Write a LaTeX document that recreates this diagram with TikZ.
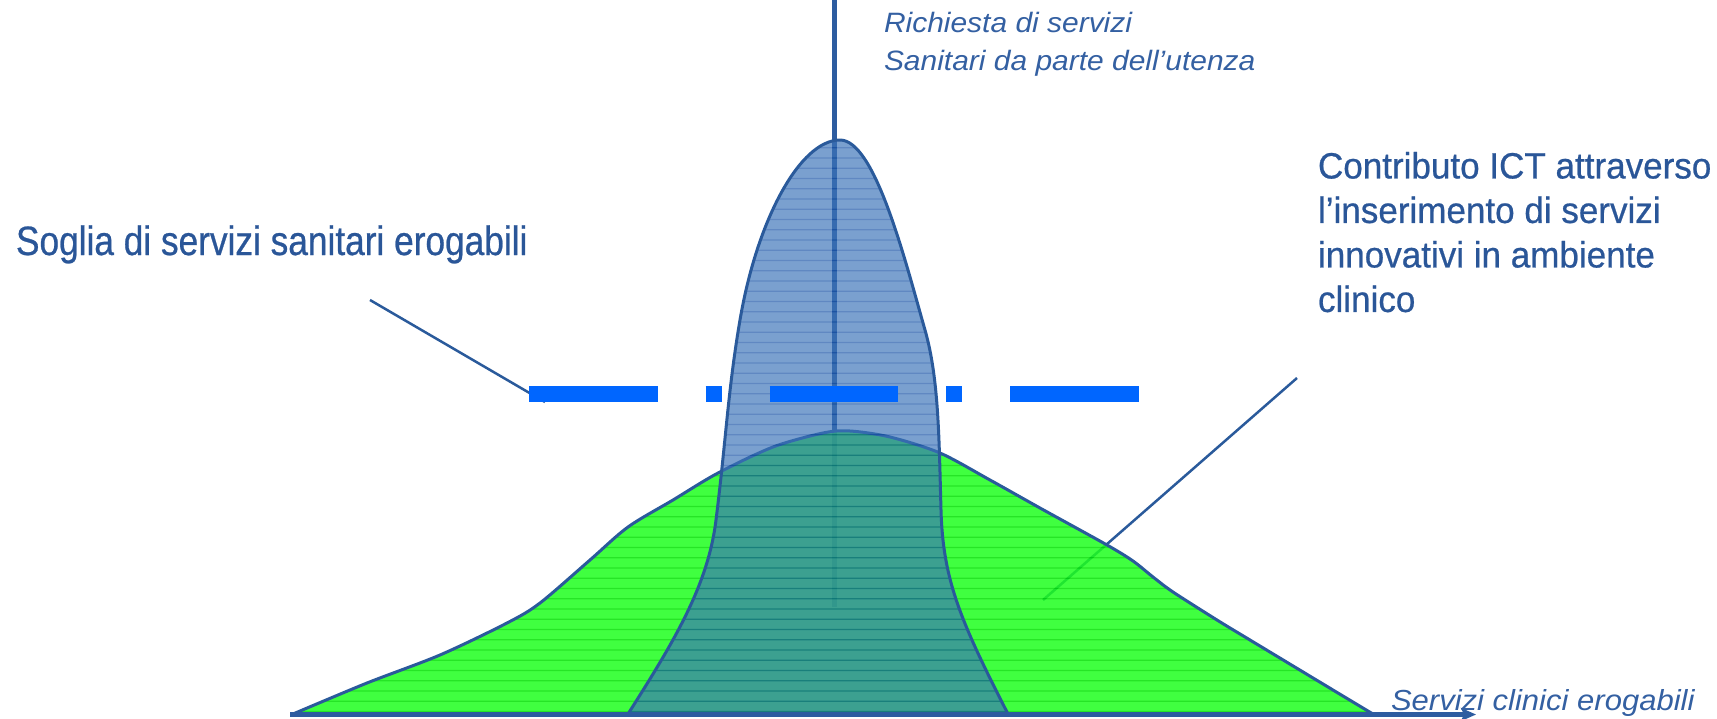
\documentclass[tikz,border=0pt]{standalone}
\usepackage{fontspec}
\setmainfont{Liberation Sans}
\newfontfamily\sogliafont[FakeStretch=0.86,FakeBold=0.6]{Liberation Sans}
\newfontfamily\ictfont[FakeStretch=0.96,FakeBold=0.6]{Liberation Sans}
\newfontfamily\axisfont[FakeStretch=1.07]{Liberation Sans}
\usetikzlibrary{arrows.meta}
\definecolor{txtblue}{RGB}{42,86,152}
\definecolor{itblue}{RGB}{52,96,162}
\definecolor{lineblue}{RGB}{42,90,155}
\definecolor{axisblue}{RGB}{45,92,160}
\definecolor{bellfill}{RGB}{59,115,184}
\definecolor{bellhatch}{RGB}{20,80,165}
\definecolor{greenfill}{RGB}{30,255,30}
\definecolor{greenhatch}{RGB}{0,225,0}
\definecolor{dashblue}{RGB}{0,102,255}
\newcommand\bellpath{(628,714) .. controls (675,640) and (708,585) .. (716,520) .. controls (726,440) and (728,390) .. (740,320) .. controls (757,220) and (800,140) .. (840,140) .. controls (875,140) and (905,260) .. (925,330) .. controls (939,379) and (939,440) .. (941,510) .. controls (943,580) and (960,620) .. (1008,714) -- cycle}
\newcommand\greenpath{plot[smooth, tension=0.5] coordinates {(293,714) (367,683) (440,655) (507,623) (540,603) (590,560) (628,527) (673,500) (718,473) (773,447) (823,433) (850,431) (890,437) (940,453) (990,480) (1040,508) (1107,545) (1133,561) (1153,577) (1173,592) (1217,620) (1250,640) (1333,690) (1373,714)} -- cycle}
\tikzset{
  leader/.style={draw=lineblue, line width=2.5},
  outline/.style={draw=lineblue, line width=3, line join=round},
  label/.style={inner sep=0, outer sep=0},
}
\begin{document}
\begin{tikzpicture}[x=1pt, y=-1pt]
\useasboundingbox (0,0) rectangle (1717,718);
% vertical axis (under shapes)
\coordinate (vtop) at (834,0);
\coordinate (vbot) at (834,607);
\draw[axisblue, line width=5] (vtop) -- (vbot);
% leader lines
\coordinate (sogliaFrom) at (370,300);
\coordinate (sogliaTo) at (545,402);
\coordinate (ictFrom) at (1297,378);
\coordinate (ictTo) at (1043,600);
\draw[leader] (sogliaFrom) -- (sogliaTo);
\draw[leader] (ictFrom) -- (ictTo);
% green shape
\begin{scope}[transparency group, opacity=0.85]
  \fill[greenfill] \greenpath;
  \begin{scope}
    \clip \greenpath;
    \foreach \k in {0,...,56} \draw[greenhatch, line width=1.2] (280,137.55+10.25*\k) -- (1390,137.55+10.25*\k);
  \end{scope}
\end{scope}
\draw[outline] \greenpath;
% blue shape
\begin{scope}[transparency group, opacity=0.68]
  \fill[bellfill] \bellpath;
  \begin{scope}
    \clip \bellpath;
    \foreach \k in {0,...,56} \draw[bellhatch, line width=1.2] (600,137.55+10.25*\k) -- (1020,137.55+10.25*\k);
  \end{scope}
\end{scope}
\draw[outline] \bellpath;
% threshold dashed line
\coordinate (thrA) at (529,394);
\coordinate (thrB) at (1138.5,394);
\draw[dashblue, line width=16, dash pattern=on 128.5 off 48 on 16 off 48] (thrA) -- (thrB);
% horizontal axis
\coordinate (hA) at (290,714.5);
\coordinate (hB) at (1476,714.5);
\draw[axisblue, line width=5, -{Stealth[length=15, width=13, inset=3]}] (hA) -- (hB);
% texts
\node[label, anchor=base west, text=txtblue, font={\sogliafont\fontsize{41}{49}\selectfont}] (soglia) at (16,255) {Soglia di servizi sanitari erogabili};
\node[label, anchor=north west, align=left, text=txtblue, font={\ictfont\fontsize{36.5}{44.5}\selectfont}] (ict) at (1318,152) {Contributo ICT attraverso\\l’inserimento di servizi\\innovativi in ambiente\\clinico};
\node[label, anchor=north west, align=left, text=itblue, font={\axisfont\itshape\fontsize{28}{38.7}\selectfont}] (demand) at (884,12) {Richiesta di servizi\\Sanitari da parte dell’utenza};
\node[label, anchor=base west, text=itblue, font={\axisfont\itshape\fontsize{29}{35}\selectfont}] (supply) at (1391,710) {Servizi clinici erogabili};
\end{tikzpicture}
\end{document}
